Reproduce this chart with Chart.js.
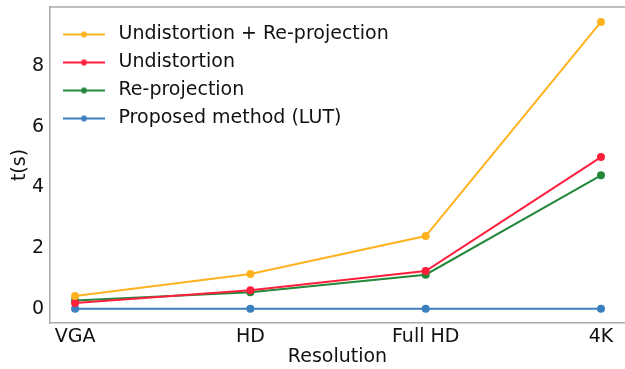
<!DOCTYPE html>
<html>
<head>
<meta charset="utf-8">
<script src="https://cdn.jsdelivr.net/npm/chart.js@4"></script>
<style>
  html, body { margin: 0; padding: 0; background: #fff; }
  #wrap { width: 625px; height: 369px; }
</style>
</head>
<body>
<div id="wrap"><canvas id="chart" width="625" height="369"></canvas></div>
<script>
const resolutions = ['VGA', 'HD', 'Full HD', '4K'];
const undistReproj = [0.43, 1.15, 2.4, 9.45];
const undistortion = [0.2, 0.62, 1.25, 5.0];
const reprojection = [0.28, 0.55, 1.13, 4.4];
const lutMethod = [0.01, 0.01, 0.01, 0.01];
const yTicks = [0, 2, 4, 6, 8];

const colors = {
    orange: '#ffb21f',
    red: '#ff1f3d',
    green: '#23883a',
    blue: '#3b7fbf'
};

const font = {family: 'DejaVu Sans', size: 19};

function legendMark(color) {
    const c = document.createElement('canvas');
    c.width = 42; c.height = 8;
    const g = c.getContext('2d');
    g.strokeStyle = color; g.lineWidth = 2;
    g.beginPath(); g.moveTo(0, 4); g.lineTo(42, 4); g.stroke();
    g.fillStyle = color;
    g.beginPath(); g.arc(21, 4, 3, 0, Math.PI * 2); g.fill();
    return c;
}

function series(label, values, color) {
    return {
        label: label,
        data: values.map((v, i) => ({x: i, y: v})),
        borderColor: color,
        backgroundColor: color,
        borderWidth: 2,
        pointRadius: 3,
        pointHoverRadius: 3,
        tension: 0,
        mark: legendMark(color)
    };
}

function noEdgePadding(axis) {
    axis.paddingTop = 0;
    axis.paddingBottom = 0;
    axis.paddingLeft = 0;
    axis.paddingRight = 0;
}

const ctx = document.getElementById('chart').getContext('2d');

new Chart(ctx, {
    type: 'line',
    data: {
        datasets: [
            series('Undistortion + Re-projection', undistReproj, colors.orange),
            series('Undistortion', undistortion, colors.red),
            series('Re-projection', reprojection, colors.green),
            series('Proposed method (LUT)', lutMethod, colors.blue)
        ]
    },
    options: {
        responsive: false,
        animation: false,
        layout: {autoPadding: false, padding: {left: 0, right: 0, top: 7, bottom: 0}},
        plugins: {
            tooltip: {enabled: false},
            legend: {
                position: 'chartArea',
                align: 'start',
                labels: {
                    usePointStyle: true,
                    pointStyleWidth: 50,
                    padding: 9,
                    color: '#111',
                    font: font,
                    generateLabels: chart => chart.data.datasets.map((ds, i) => ({
                        text: ds.label,
                        pointStyle: ds.mark,
                        fillStyle: ds.borderColor,
                        strokeStyle: ds.borderColor,
                        lineWidth: 0,
                        datasetIndex: i,
                        fontColor: '#111'
                    }))
                }
            }
        },
        scales: {
            x: {
                type: 'linear',
                min: -0.143,
                max: 3.137,
                afterBuildTicks: axis => { axis.ticks = resolutions.map((r, i) => ({value: i})); },
                afterFit: axis => { axis.height = 46; noEdgePadding(axis); },
                grid: {display: false, drawTicks: true, tickLength: 3, tickColor: '#999'},
                border: {color: '#aaa', width: 1.5},
                ticks: {
                    color: '#111',
                    font: font,
                    padding: 0,
                    maxRotation: 0,
                    callback: v => resolutions[v]
                },
                title: {
                    display: true,
                    text: 'Resolution',
                    color: '#111',
                    font: font,
                    padding: {top: 0, bottom: 1}
                }
            },
            y: {
                min: -0.461,
                max: 9.94,
                afterBuildTicks: axis => { axis.ticks = yTicks.map(v => ({value: v})); },
                afterFit: axis => { axis.width = 50; noEdgePadding(axis); },
                grid: {display: false, drawTicks: true, tickLength: 3, tickColor: '#999'},
                border: {color: '#aaa', width: 1.5},
                ticks: {
                    color: '#111',
                    font: font,
                    padding: 3
                },
                title: {
                    display: true,
                    text: 't(s)',
                    color: '#111',
                    font: font,
                    padding: {top: 9, bottom: 0}
                }
            }
        }
    },
    plugins: [{
        id: 'frame',
        afterLayout(chart) {
            chart.legend.top += 16;
        },
        afterDraw(chart) {
            const a = chart.chartArea;
            const g = chart.ctx;
            g.save();
            g.strokeStyle = '#aaa';
            g.lineWidth = 1.5;
            g.beginPath();
            g.moveTo(a.left, a.top);
            g.lineTo(a.right, a.top);
            g.stroke();
            g.restore();
        }
    }]
});
</script>
</body>
</html>
